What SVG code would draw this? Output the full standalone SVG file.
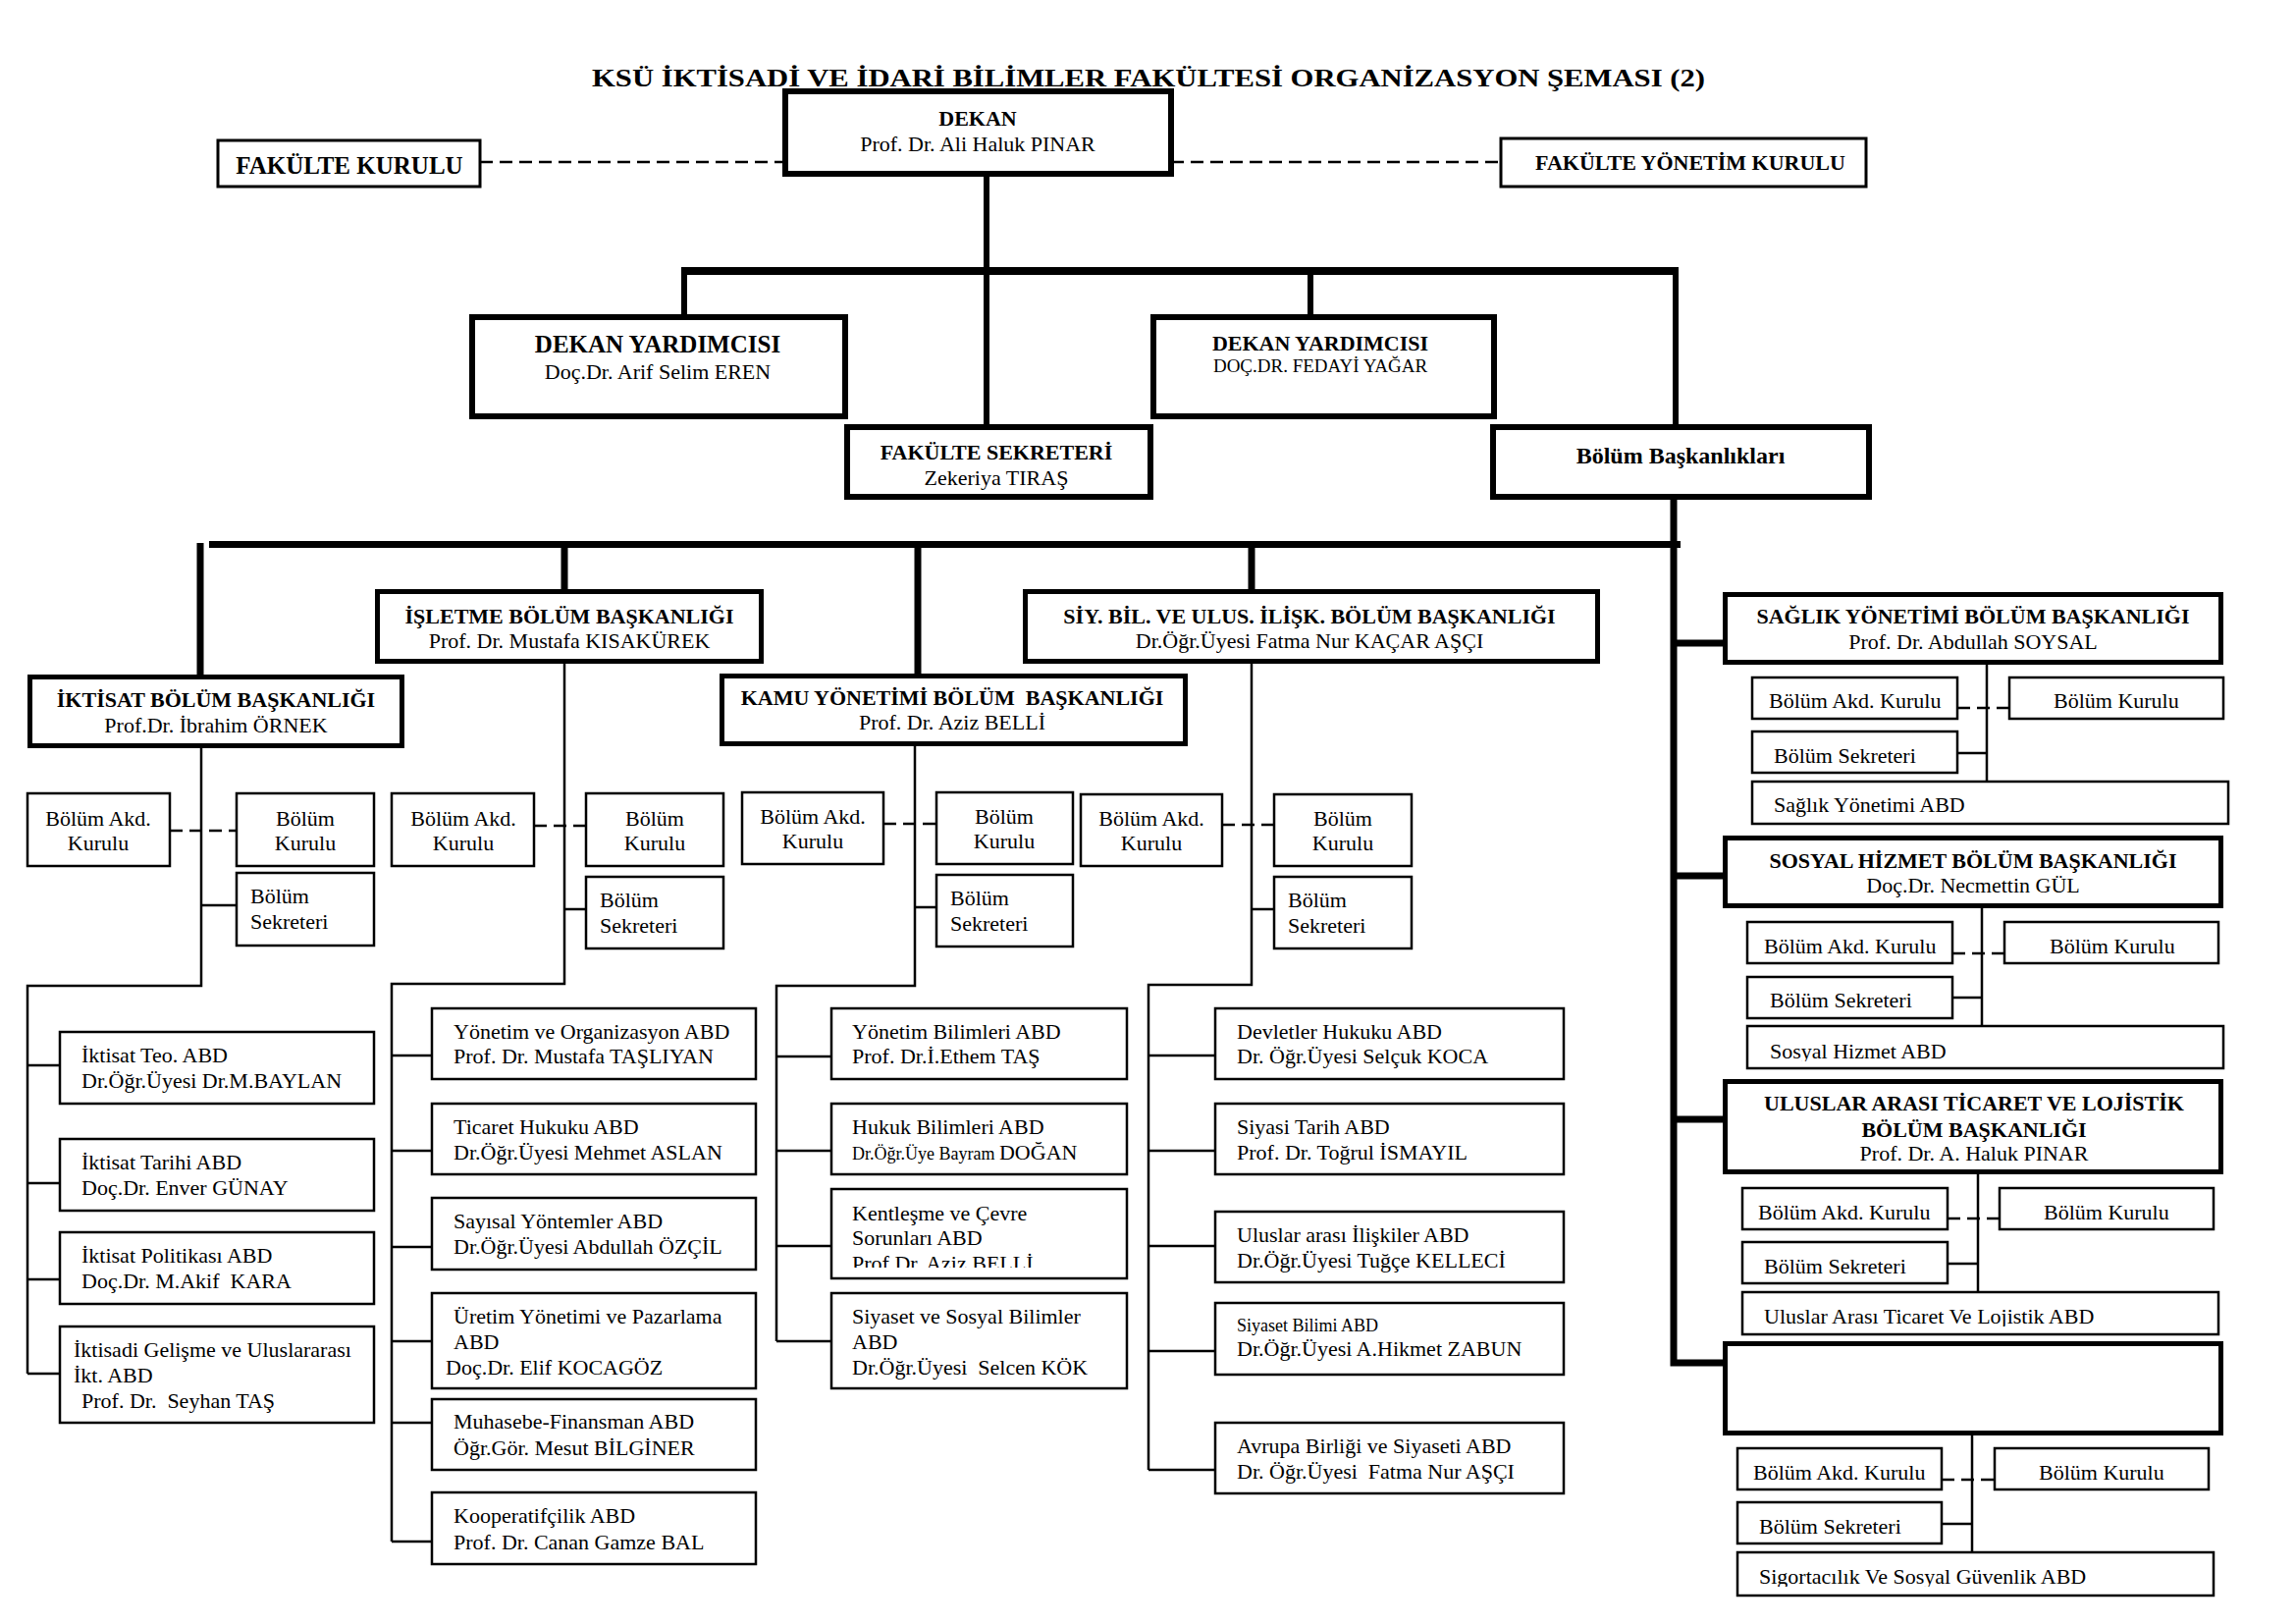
<svg xmlns="http://www.w3.org/2000/svg" width="2339" height="1654" viewBox="0 0 2339 1654">
<style>
text{font-family:"Liberation Serif","Times New Roman",serif;font-size:22px;fill:#000}
.b{font-weight:bold}
.c{text-anchor:middle}
.s18{font-size:18px}
.s19{font-size:19px}
.s24{font-size:24px}
.s25{font-size:25px}
rect{fill:#fff;stroke:#000}
.k6{stroke-width:6}
.k5{stroke-width:5}
.k3{stroke-width:3}
.k2{stroke-width:2.5}
.ln{fill:none;stroke:#000}
.th{stroke-width:7}
.t6{stroke-width:6}
.tn{stroke-width:2.5}
.ds{stroke-width:2.5;stroke-dasharray:13 7}
</style>
<defs>
<clipPath id="clipKent"><rect x="847" y="1211" width="301" height="80"/></clipPath>
<clipPath id="clipSos"><rect x="1780" y="1045" width="485" height="36"/></clipPath>
<clipPath id="clipUlu"><rect x="1775" y="1316" width="485" height="35"/></clipPath>
<clipPath id="clipSig"><rect x="1770" y="1581" width="485" height="35"/></clipPath>
</defs>
<rect x="0" y="0" width="2339" height="1654" style="fill:#fff;stroke:none"/>
<text id="title" class="b c s25" x="1170" y="88" textLength="1134" lengthAdjust="spacingAndGlyphs">KSÜ İKTİSADİ VE İDARİ BİLİMLER FAKÜLTESİ ORGANİZASYON ŞEMASI (2)</text>

<g id="connectors">
<path class="ln ds" d="M489,165H800M1193,165H1529"/>
<path class="ln t6" d="M1005,177V276M697,276V320M1005,276V432M1335,276V320M1707,276V432"/>
<path class="ln" style="stroke-width:8" d="M694,276H1710"/>
<path class="ln th" d="M213,554.5H1712M204,553V687M575,554V600M935,554V686M1275,554V600"/>
<path class="ln th" d="M1705,509V1388H1755M1705,655H1755M1705,892H1755M1705,1140H1755"/>
<path class="ln ds" d="M173,846H241M544,841H597M900,839H954M1245,840H1298M1994,721H2047M1989,971H2042M1984,1241H2037M1978,1507H2032"/>
<path class="ln tn" d="M205,762V1004H28V1399M205,922H241M28,1085H61M28,1205H61M28,1303H61M28,1399H61"/>
<path class="ln tn" d="M575,676V1002H399V1570M575,926H597M399,1075H440M399,1172H440M399,1270H440M399,1366H440M399,1449H440M399,1570H440"/>
<path class="ln tn" d="M932,760V1004H791V1366M932,924H954M791,1076H847M791,1172H847M791,1269H847M791,1366H847"/>
<path class="ln tn" d="M1275,676V1003H1170V1497M1275,926H1298M1170,1075H1238M1170,1172H1238M1170,1269H1238M1170,1376H1238M1170,1497H1238"/>
<path class="ln tn" d="M2024,677V796M1994,767H2024M2019,925V1045M1989,1016H2019M2015,1196V1316M1984,1287H2015M2009,1462V1581M1978,1552H2009"/>
</g>

<g id="dekan"><rect class="k6" x="800" y="93" width="393" height="84"/><text class="b c" x="996" y="128">DEKAN</text><text class="c" x="996" y="154">Prof. Dr. Ali Haluk PINAR</text></g>
<g id="fakulte-kurulu"><rect class="k3" x="222" y="143" width="267" height="47"/><text class="b c s25" x="356" y="177">FAKÜLTE KURULU</text></g>
<g id="fakulte-yonetim"><rect class="k3" x="1529" y="141" width="372" height="49"/><text class="b c" x="1722" y="173">FAKÜLTE YÖNETİM KURULU</text></g>
<g id="dy1"><rect class="k6" x="481" y="323" width="380" height="101"/><text class="b c s25" x="670" y="359">DEKAN YARDIMCISI</text><text class="c" x="670" y="386">Doç.Dr. Arif Selim EREN</text></g>
<g id="dy2"><rect class="k6" x="1175" y="323" width="347" height="101"/><text class="b c" x="1345" y="357">DEKAN YARDIMCISI</text><text class="c s19" x="1345" y="379">DOÇ.DR. FEDAYİ YAĞAR</text></g>
<g id="fs"><rect class="k6" x="863" y="435" width="309" height="71"/><text class="b c" x="1015" y="468">FAKÜLTE SEKRETERİ</text><text class="c" x="1015" y="494">Zekeriya TIRAŞ</text></g>
<g id="bb"><rect class="k6" x="1521" y="435" width="383" height="71"/><text class="b c s24" x="1712" y="472">Bölüm Başkanlıkları</text></g>

<g id="iktisat"><rect class="k5" x="30.5" y="689.5" width="379" height="70"/><text class="b c" x="220" y="720">İKTİSAT BÖLÜM BAŞKANLIĞI</text><text class="c" x="220" y="746">Prof.Dr. İbrahim ÖRNEK</text></g>
<g id="iktisat-akd"><rect class="k2" x="28" y="808" width="145" height="74"/><text class="c" x="100" y="841">Bölüm Akd.</text><text class="c" x="100" y="866">Kurulu</text></g>
<g id="iktisat-kurul"><rect class="k2" x="241" y="808" width="140" height="74"/><text class="c" x="311" y="841">Bölüm</text><text class="c" x="311" y="866">Kurulu</text></g>
<g id="iktisat-sek"><rect class="k2" x="241" y="889" width="140" height="74"/><text x="255" y="920">Bölüm</text><text x="255" y="946">Sekreteri</text></g>
<g id="ikt-abd1"><rect class="k2" x="61" y="1051" width="320" height="73"/><text x="83" y="1082">İktisat Teo. ABD</text><text x="83" y="1108">Dr.Öğr.Üyesi Dr.M.BAYLAN</text></g>
<g id="ikt-abd2"><rect class="k2" x="61" y="1160" width="320" height="73"/><text x="83" y="1191">İktisat Tarihi ABD</text><text x="83" y="1217">Doç.Dr. Enver GÜNAY</text></g>
<g id="ikt-abd3"><rect class="k2" x="61" y="1255" width="320" height="73"/><text x="83" y="1286">İktisat Politikası ABD</text><text x="83" y="1312" xml:space="preserve">Doç.Dr. M.Akif  KARA</text></g>
<g id="ikt-abd4"><rect class="k2" x="61" y="1351" width="320" height="98"/><text x="75" y="1382">İktisadi Gelişme ve Uluslararası</text><text x="75" y="1408">İkt. ABD</text><text x="83" y="1434" xml:space="preserve">Prof. Dr.  Seyhan TAŞ</text></g>

<g id="isletme"><rect class="k5" x="384.5" y="602.5" width="391" height="71"/><text class="b c" x="580" y="635">İŞLETME BÖLÜM BAŞKANLIĞI</text><text class="c" x="580" y="660">Prof. Dr. Mustafa KISAKÜREK</text></g>
<g id="isletme-akd"><rect class="k2" x="399" y="808" width="145" height="74"/><text class="c" x="472" y="841">Bölüm Akd.</text><text class="c" x="472" y="866">Kurulu</text></g>
<g id="isletme-kurul"><rect class="k2" x="597" y="808" width="140" height="74"/><text class="c" x="667" y="841">Bölüm</text><text class="c" x="667" y="866">Kurulu</text></g>
<g id="isletme-sek"><rect class="k2" x="597" y="893" width="140" height="73"/><text x="611" y="924">Bölüm</text><text x="611" y="950">Sekreteri</text></g>
<g id="isl-abd1"><rect class="k2" x="440" y="1027" width="330" height="72"/><text x="462" y="1058">Yönetim ve Organizasyon ABD</text><text x="462" y="1083">Prof. Dr. Mustafa TAŞLIYAN</text></g>
<g id="isl-abd2"><rect class="k2" x="440" y="1124" width="330" height="72"/><text x="462" y="1155">Ticaret Hukuku ABD</text><text x="462" y="1181">Dr.Öğr.Üyesi Mehmet ASLAN</text></g>
<g id="isl-abd3"><rect class="k2" x="440" y="1220" width="330" height="73"/><text x="462" y="1251">Sayısal Yöntemler ABD</text><text x="462" y="1277">Dr.Öğr.Üyesi Abdullah ÖZÇİL</text></g>
<g id="isl-abd4"><rect class="k2" x="440" y="1317" width="330" height="97"/><text x="462" y="1348">Üretim Yönetimi ve Pazarlama</text><text x="462" y="1374">ABD</text><text x="454" y="1400">Doç.Dr. Elif KOCAGÖZ</text></g>
<g id="isl-abd5"><rect class="k2" x="440" y="1425" width="330" height="72"/><text x="462" y="1455">Muhasebe-Finansman ABD</text><text x="462" y="1482">Öğr.Gör. Mesut BİLGİNER</text></g>
<g id="isl-abd6"><rect class="k2" x="440" y="1520" width="330" height="73"/><text x="462" y="1551">Kooperatifçilik ABD</text><text x="462" y="1578">Prof. Dr. Canan Gamze BAL</text></g>

<g id="kamu"><rect class="k5" x="735.5" y="688.5" width="472" height="69"/><text class="b c" x="970" y="718" xml:space="preserve">KAMU YÖNETİMİ BÖLÜM  BAŞKANLIĞI</text><text class="c" x="970" y="743">Prof. Dr. Aziz BELLİ</text></g>
<g id="kamu-akd"><rect class="k2" x="756" y="807" width="144" height="73"/><text class="c" x="828" y="839">Bölüm Akd.</text><text class="c" x="828" y="864">Kurulu</text></g>
<g id="kamu-kurul"><rect class="k2" x="954" y="807" width="139" height="73"/><text class="c" x="1023" y="839">Bölüm</text><text class="c" x="1023" y="864">Kurulu</text></g>
<g id="kamu-sek"><rect class="k2" x="954" y="891" width="139" height="73"/><text x="968" y="922">Bölüm</text><text x="968" y="948">Sekreteri</text></g>
<g id="kamu-abd1"><rect class="k2" x="847" y="1027" width="301" height="72"/><text x="868" y="1058">Yönetim Bilimleri ABD</text><text x="868" y="1083">Prof. Dr.İ.Ethem TAŞ</text></g>
<g id="kamu-abd2"><rect class="k2" x="847" y="1124" width="301" height="72"/><text x="868" y="1155">Hukuk Bilimleri ABD</text><text x="868" y="1181"><tspan class="s18">Dr.Öğr.Üye Bayram </tspan>DOĞAN</text></g>
<g id="kamu-abd3"><rect class="k2" x="847" y="1211" width="301" height="91"/><text x="868" y="1243">Kentleşme ve Çevre</text><text x="868" y="1268">Sorunları ABD</text><text x="868" y="1294" clip-path="url(#clipKent)">Prof.Dr. Aziz BELLİ</text></g>
<g id="kamu-abd4"><rect class="k2" x="847" y="1317" width="301" height="97"/><text x="868" y="1348">Siyaset ve Sosyal Bilimler</text><text x="868" y="1374">ABD</text><text x="868" y="1400" xml:space="preserve">Dr.Öğr.Üyesi  Selcen KÖK</text></g>

<g id="siy"><rect class="k5" x="1044.5" y="602.5" width="583" height="71"/><text class="b c" x="1334" y="635">SİY. BİL. VE ULUS. İLİŞK. BÖLÜM BAŞKANLIĞI</text><text class="c" x="1334" y="660">Dr.Öğr.Üyesi Fatma Nur KAÇAR AŞÇI</text></g>
<g id="siy-akd"><rect class="k2" x="1101" y="809" width="144" height="73"/><text class="c" x="1173" y="841">Bölüm Akd.</text><text class="c" x="1173" y="866">Kurulu</text></g>
<g id="siy-kurul"><rect class="k2" x="1298" y="809" width="140" height="73"/><text class="c" x="1368" y="841">Bölüm</text><text class="c" x="1368" y="866">Kurulu</text></g>
<g id="siy-sek"><rect class="k2" x="1298" y="893" width="140" height="73"/><text x="1312" y="924">Bölüm</text><text x="1312" y="950">Sekreteri</text></g>
<g id="siy-abd1"><rect class="k2" x="1238" y="1027" width="355" height="72"/><text x="1260" y="1058">Devletler Hukuku ABD</text><text x="1260" y="1083">Dr. Öğr.Üyesi Selçuk KOCA</text></g>
<g id="siy-abd2"><rect class="k2" x="1238" y="1124" width="355" height="72"/><text x="1260" y="1155">Siyasi Tarih ABD</text><text x="1260" y="1181">Prof. Dr. Toğrul İSMAYIL</text></g>
<g id="siy-abd3"><rect class="k2" x="1238" y="1234" width="355" height="72"/><text x="1260" y="1265">Uluslar arası İlişkiler ABD</text><text x="1260" y="1291">Dr.Öğr.Üyesi Tuğçe KELLECİ</text></g>
<g id="siy-abd4"><rect class="k2" x="1238" y="1327" width="355" height="73"/><text class="s18" x="1260" y="1356">Siyaset Bilimi ABD</text><text x="1260" y="1381">Dr.Öğr.Üyesi A.Hikmet ZABUN</text></g>
<g id="siy-abd5"><rect class="k2" x="1238" y="1449" width="355" height="72"/><text x="1260" y="1480">Avrupa Birliği ve Siyaseti ABD</text><text x="1260" y="1506" xml:space="preserve">Dr. Öğr.Üyesi  Fatma Nur AŞÇI</text></g>

<g id="saglik"><rect class="k5" x="1757.5" y="605.5" width="505" height="69"/><text class="b c" x="2010" y="635">SAĞLIK YÖNETİMİ BÖLÜM BAŞKANLIĞI</text><text class="c" x="2010" y="661">Prof. Dr. Abdullah SOYSAL</text></g>
<g id="saglik-akd"><rect class="k2" x="1785" y="690" width="209" height="42"/><text x="1802" y="721">Bölüm Akd. Kurulu</text></g>
<g id="saglik-kurul"><rect class="k2" x="2047" y="690" width="218" height="42"/><text x="2092" y="721">Bölüm Kurulu</text></g>
<g id="saglik-sek"><rect class="k2" x="1785" y="745" width="209" height="42"/><text x="1807" y="777">Bölüm Sekreteri</text></g>
<g id="saglik-abd"><rect class="k2" x="1785" y="796" width="485" height="43"/><text x="1807" y="827">Sağlık Yönetimi ABD</text></g>

<g id="sosyal"><rect class="k5" x="1757.5" y="853.5" width="505" height="69"/><text class="b c" x="2010" y="884">SOSYAL HİZMET BÖLÜM BAŞKANLIĞI</text><text class="c" x="2010" y="909">Doç.Dr. Necmettin GÜL</text></g>
<g id="sosyal-akd"><rect class="k2" x="1780" y="939" width="209" height="42"/><text x="1797" y="971">Bölüm Akd. Kurulu</text></g>
<g id="sosyal-kurul"><rect class="k2" x="2042" y="939" width="218" height="42"/><text x="2088" y="971">Bölüm Kurulu</text></g>
<g id="sosyal-sek"><rect class="k2" x="1780" y="995" width="209" height="42"/><text x="1803" y="1026">Bölüm Sekreteri</text></g>
<g id="sosyal-abd"><rect class="k2" x="1780" y="1045" width="485" height="43"/><text x="1803" y="1078" clip-path="url(#clipSos)">Sosyal Hizmet ABD</text></g>

<g id="uluslar"><rect class="k5" x="1757.5" y="1101.5" width="505" height="92"/><text class="b c" x="2011" y="1131">ULUSLAR ARASI TİCARET VE LOJİSTİK</text><text class="b c" x="2011" y="1158">BÖLÜM BAŞKANLIĞI</text><text class="c" x="2011" y="1182">Prof. Dr. A. Haluk PINAR</text></g>
<g id="uluslar-akd"><rect class="k2" x="1775" y="1210" width="209" height="42"/><text x="1791" y="1242">Bölüm Akd. Kurulu</text></g>
<g id="uluslar-kurul"><rect class="k2" x="2037" y="1210" width="218" height="42"/><text x="2082" y="1242">Bölüm Kurulu</text></g>
<g id="uluslar-sek"><rect class="k2" x="1775" y="1265" width="209" height="42"/><text x="1797" y="1297">Bölüm Sekreteri</text></g>
<g id="uluslar-abd"><rect class="k2" x="1775" y="1316" width="485" height="43"/><text x="1797" y="1348" clip-path="url(#clipUlu)">Uluslar Arası Ticaret Ve Lojistik ABD</text></g>

<g id="bos"><rect class="k5" x="1757.5" y="1368.5" width="505" height="91"/></g>
<g id="bos-akd"><rect class="k2" x="1770" y="1475" width="208" height="42"/><text x="1786" y="1507">Bölüm Akd. Kurulu</text></g>
<g id="bos-kurul"><rect class="k2" x="2032" y="1475" width="218" height="42"/><text x="2077" y="1507">Bölüm Kurulu</text></g>
<g id="bos-sek"><rect class="k2" x="1770" y="1530" width="208" height="42"/><text x="1792" y="1562">Bölüm Sekreteri</text></g>
<g id="bos-abd"><rect class="k2" x="1770" y="1581" width="485" height="44"/><text x="1792" y="1613" clip-path="url(#clipSig)">Sigortacılık Ve Sosyal Güvenlik ABD</text></g>
</svg>
